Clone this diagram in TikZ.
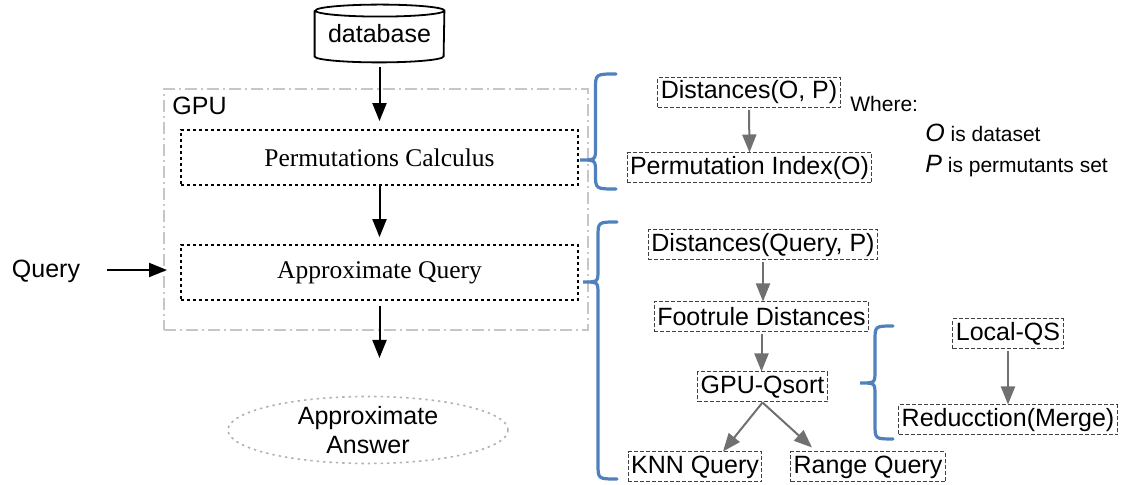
\documentclass[tikz,border=0pt]{standalone}
\usepackage{fontspec}
\setmainfont{Liberation Sans}
\newfontfamily\tnr{Liberation Serif}
\usetikzlibrary{arrows.meta,shapes.geometric}
\definecolor{bracecol}{RGB}{79,129,189}
\definecolor{arrgray}{RGB}{112,112,112}
\newcommand\mybrace[6]{%
  \draw[bracestyle] (#4,-#5) .. controls (#3,-#5) .. (#3,{-#5-15}) -- (#3,{-#2+12})
    .. controls (#3,-#2) .. (#1,-#2) .. controls (#3,-#2) .. (#3,{-#2-12})
    -- (#3,{-#6+15}) .. controls (#3,-#6) .. (#4,-#6);}
\begin{document}
\begin{tikzpicture}[x=0.5pt,y=0.5pt,font=\fontsize{12.5}{15}\selectfont,
  sbox/.style={draw=black!75, dash pattern=on 2pt off 1pt, line width=0.5pt,
    inner xsep=1.5pt, inner ysep=0pt, minimum height=15pt},
  calcbox/.style={draw, dash pattern=on 1.5pt off 1.5pt, line width=0.9pt,
    minimum width=198.5pt, minimum height=27.5pt,
    font=\tnr\fontsize{12.75}{15}\selectfont},
  arr/.style={-{Triangle[length=9pt,width=7pt]}, line width=1pt},
  garr/.style={arr, color=arrgray},
  bracestyle/.style={draw=bracecol, line width=1.6pt, line cap=round},
  gpubox/.style={draw=gray!45, dash pattern=on 6pt off 2pt on 1pt off 2pt, line width=0.6pt},
  small/.style={font=\fontsize{10.5}{12}\selectfont, anchor=west, inner sep=0pt}]
\useasboundingbox (0,0) rectangle (1121,-485);

% GPU container
\node[gpubox, minimum width=212pt, minimum height=120.5pt, inner sep=0] (gpu) at (376,-209.5) {};
\node[anchor=west, inner sep=0] (gpulbl) at (172,-106) {GPU};

% database cylinder
\node[minimum width=64.5pt, minimum height=28.5pt, inner sep=0] (db) at (379.5,-33.5) {\raisebox{-2.5pt}{database}};
\draw[line width=0.9pt] ([yshift=-3pt]db.north west) -- ([yshift=3pt]db.south west)
  arc[start angle=180, end angle=360, x radius=32.25pt, y radius=3pt]
  -- ([yshift=-3pt]db.north east)
  arc[start angle=0, end angle=180, x radius=32.25pt, y radius=3pt]
  arc[start angle=180, end angle=360, x radius=32.25pt, y radius=3pt];

% main boxes
\node[calcbox] (pc) at (379.5,-157.5) {Permutations Calculus};
\node[calcbox] (aq) at (379.5,-272.5) {Approximate Query};
\node[ellipse, draw=gray!60, dash pattern=on 1.2pt off 2pt, line width=0.8pt,
  minimum width=140pt, minimum height=32pt, inner sep=0, align=center,
  font=\fontsize{12.5}{14.5}\selectfont] (ans) at (368,-430) {Approximate\\Answer};
\node (q) at (46,-271) {Query};
\coordinate (qin) at (167,-270);
\coordinate (ansin) at (379.5,-358);

\draw[arr, shorten <=2.5pt, shorten >=4pt] (db.south) -- (pc.north);
\draw[arr, shorten >=3.5pt] (pc.south) -- (aq.north);
\draw[arr, shorten <=2.5pt] (aq.south) -- (ansin);
\draw[arr, shorten <=10pt] (q.east |- qin) -- (qin);

% right side nodes
\node[sbox] (dop) at (749,-92.5) {Distances(O, P)};
\node[sbox] (pidx) at (749.5,-168) {Permutation Index(O)};
\node[small] (where) at (850,-104) {Where:};
\node[small] (odef) at (925,-133) {{\fontsize{12.5}{12}\selectfont\textit{O}} is dataset};
\node[small] (pdef) at (925,-166) {{\fontsize{12.5}{12}\selectfont\textit{P}} is permutants set};

\node[sbox] (dqp) at (763,-245) {Distances(Query, P)};
\node[sbox] (foot) at (761.5,-317) {Footrule Distances};
\node[sbox] (gq) at (762.5,-387) {GPU-Qsort};
\node[sbox] (knn) at (695,-467) {KNN Query};
\node[sbox] (rq) at (868,-467) {Range Query};
\node[sbox] (lqs) at (1008,-334) {Local-QS};
\node[sbox] (red) at (1008,-420) {Reducction(Merge)};

\draw[garr, shorten <=1pt] (dop.south) -- (pidx.south |- pidx.north);
\draw[garr, shorten <=1pt] (dqp.south) -- (dqp.south |- foot.north);
\draw[garr, shorten <=1pt] (foot.south) -- (foot.south |- gq.north);
\draw[garr] (gq.south) -- ([xshift=14pt]knn.north);
\draw[garr] (gq.south) -- ([xshift=-28pt,yshift=2pt]rq.north);
\draw[garr, shorten <=1pt] (lqs.south) -- (red.north);

% braces
\mybrace{580}{160}{595.5}{616}{74}{189}
\mybrace{583}{282}{598}{617}{222}{479}
\mybrace{860}{383}{875}{893}{326}{439}
\end{tikzpicture}
\end{document}
